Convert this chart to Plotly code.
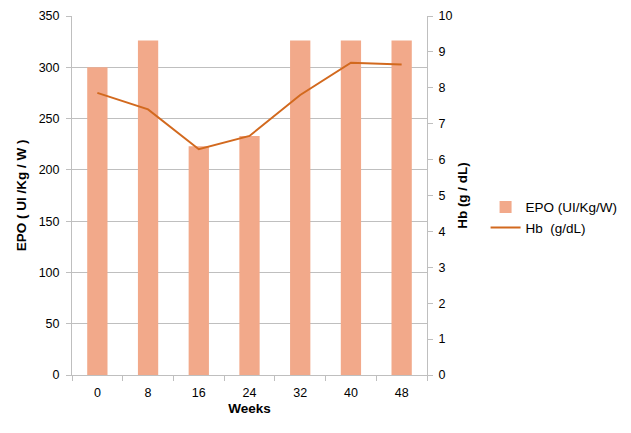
import plotly.graph_objects as go

weeks = ["0", "8", "16", "24", "32", "40", "48"]
epo = [300, 326, 223, 233, 326, 326, 326]
hb = [7.86, 7.40, 6.29, 6.66, 7.80, 8.70, 8.65]

bar_color = "#F2A98A"
line_color = "#D2691E"
grid = "#BFBFBF"
font_family = "Liberation Sans, Arial, sans-serif"

fig = go.Figure()
fig.add_trace(go.Bar(x=weeks, y=epo, name="EPO (UI/Kg/W)", marker_color=bar_color,
                     marker_line_width=0, width=0.4, yaxis="y"))
fig.add_trace(go.Scatter(x=weeks, y=hb, name="Hb  (g/dL)", mode="lines",
                         line=dict(color=line_color, width=2), yaxis="y2"))

fig.update_layout(
    width=623, height=425,
    margin=dict(l=64, r=204, t=8, b=58, autoexpand=False),
    paper_bgcolor="white", plot_bgcolor="white",
    font=dict(family=font_family, size=12.5, color="#000000"),
    showlegend=True,
    legend=dict(x=1.165, y=0.438, xanchor="left", yanchor="middle",
                font=dict(size=13.5), tracegroupgap=4, itemwidth=30),
    xaxis=dict(type="category", title=dict(text="<b>Weeks</b>", font=dict(size=13.5), standoff=4),
               showline=True, linecolor=grid, ticks="outside", tickson="boundaries",
               ticklen=5, tickcolor=grid, showgrid=False, ticklabelstandoff=6),
    yaxis=dict(range=[0, 350], dtick=50, showgrid=True, gridcolor=grid, gridwidth=1,
               showline=True, linecolor=grid, ticks="outside", ticklen=5, tickcolor=grid,
               zeroline=False, ticklabelstandoff=4,
               title=dict(text="<b>EPO ( UI /Kg / W )</b>", font=dict(size=13.5), standoff=8)),
    yaxis2=dict(range=[0, 10], dtick=1, overlaying="y", side="right", showgrid=False,
                showline=True, linecolor=grid, ticks="outside", ticklen=5, tickcolor=grid,
                zeroline=False, ticklabelstandoff=3,
                title=dict(text="<b>Hb (g / dL)</b>", font=dict(size=13.5), standoff=6)),
    bargap=0.6,
)

fig.write_html("out.html")
